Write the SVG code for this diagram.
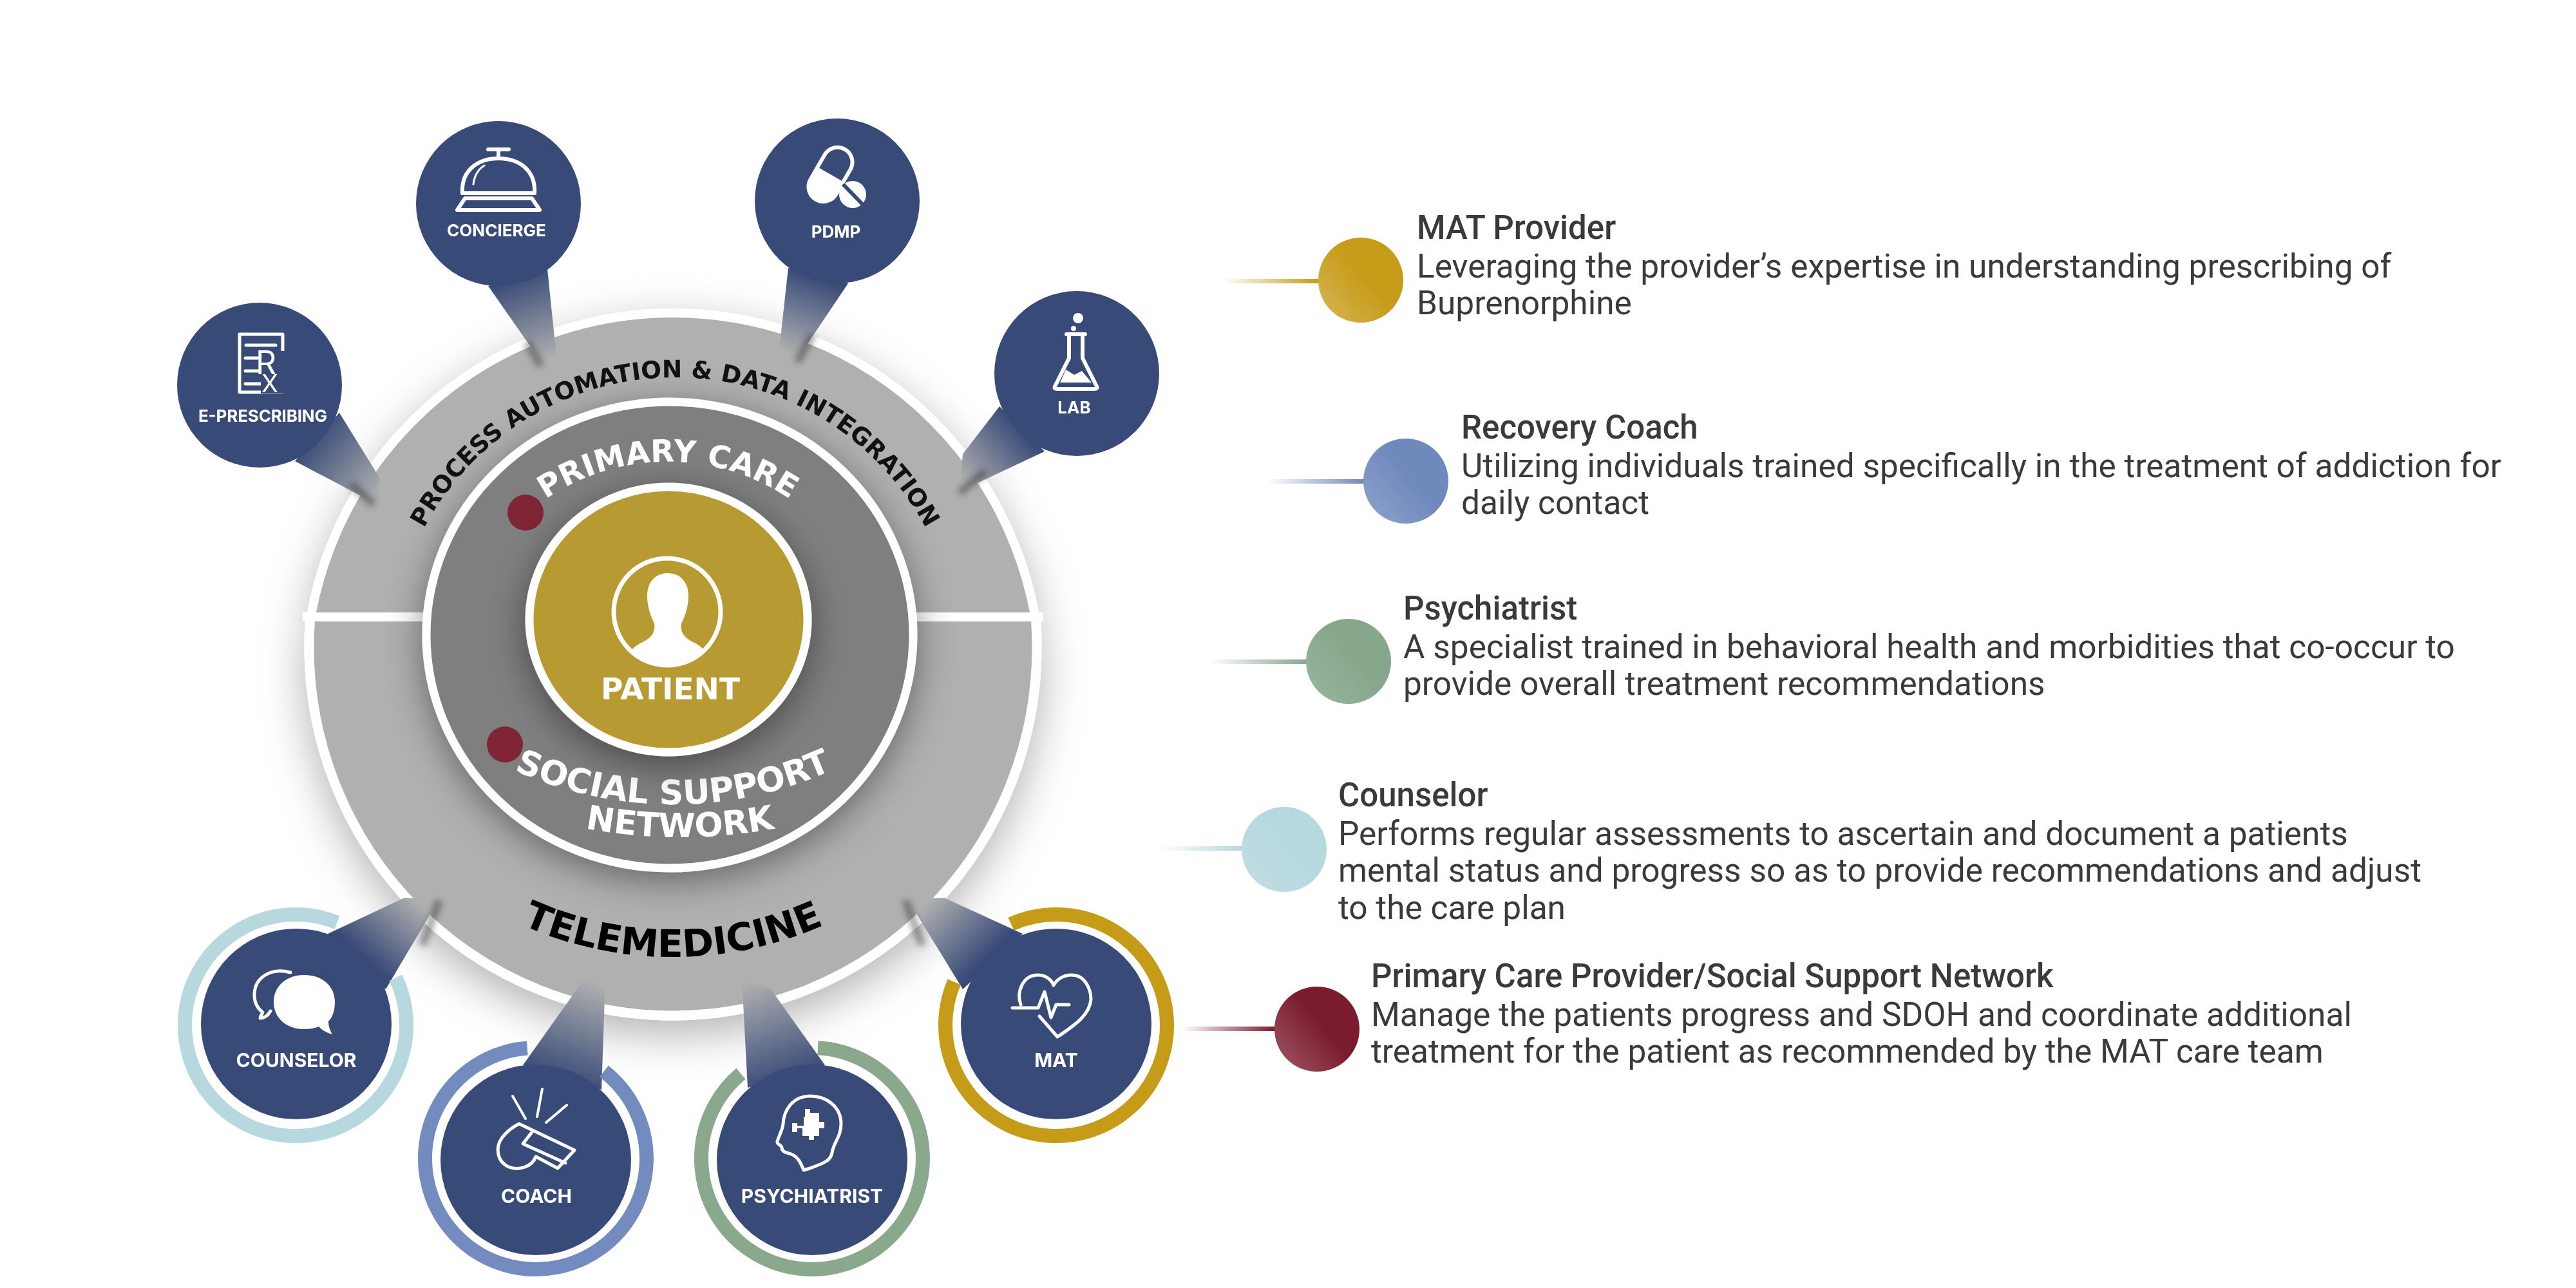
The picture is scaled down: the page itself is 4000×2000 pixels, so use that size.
<svg xmlns="http://www.w3.org/2000/svg" xmlns:xlink="http://www.w3.org/1999/xlink" width="4000" height="2000" viewBox="0 0 4000 2000">
<style>
text{font-family:"Inter","Liberation Sans",sans-serif}
.lbl{font-size:26px;font-weight:700;fill:#fff;text-anchor:middle}
.lbl2{font-size:30px;font-weight:700;fill:#fff;text-anchor:middle}
.arc{font-family:"DejaVu Sans","Liberation Sans",sans-serif;font-weight:700;text-anchor:middle}
.t{font-family:"Roboto","Liberation Sans",sans-serif;font-size:51px;font-weight:500;fill:#3a3a3a}
.b{font-family:"Roboto","Liberation Sans",sans-serif;font-size:51.4px;fill:#3a3a3a}
.node{fill:#384A78}
.ring{fill:none;stroke-width:22}
.ws{fill:none;stroke:#fff;stroke-width:6;stroke-linecap:round;stroke-linejoin:round}
.wf{fill:#fff}
.edge{fill:none;stroke:#222;stroke-width:12;opacity:.4;filter:url(#soft)}
.leg{stroke-width:7}
</style>
<defs>
<filter id="shadow" x="-20%" y="-20%" width="140%" height="140%"><feDropShadow dx="0" dy="14" stdDeviation="28" flood-color="#000" flood-opacity=".42"/></filter>
<filter id="hubshadow" x="-20%" y="-20%" width="140%" height="140%"><feDropShadow dx="0" dy="22" stdDeviation="34" flood-color="#000" flood-opacity=".3"/></filter>
<filter id="soft" x="-100%" y="-100%" width="300%" height="300%"><feGaussianBlur stdDeviation="5"/></filter>
<clipPath id="hubTop"><rect x="300" y="300" width="1500" height="652"/></clipPath>
<clipPath id="hubBot"><rect x="300" y="964" width="1500" height="800"/></clipPath>
<clipPath id="person"><circle cx="1036" cy="950" r="80"/></clipPath>
<linearGradient id="w"><stop offset="0" stop-color="#384A78"/><stop offset="1" stop-color="#B0B0B0"/></linearGradient>
<linearGradient id="w1" href="#w" gradientUnits="userSpaceOnUse" x1="480" y1="680" x2="590" y2="770"/>
<linearGradient id="w2" href="#w" gradientUnits="userSpaceOnUse" x1="800" y1="430" x2="850" y2="560"/>
<linearGradient id="w3" href="#w" gradientUnits="userSpaceOnUse" x1="1270" y1="430" x2="1225" y2="550"/>
<linearGradient id="w4" href="#w" gradientUnits="userSpaceOnUse" x1="1590" y1="670" x2="1495" y2="750"/>
<linearGradient id="w5" href="#w" gradientUnits="userSpaceOnUse" x1="570" y1="1490" x2="650" y2="1400"/>
<linearGradient id="w6" href="#w" gradientUnits="userSpaceOnUse" x1="870" y1="1680" x2="925" y2="1525"/>
<linearGradient id="w7" href="#w" gradientUnits="userSpaceOnUse" x1="1220" y1="1680" x2="1165" y2="1525"/>
<linearGradient id="w8" href="#w" gradientUnits="userSpaceOnUse" x1="1530" y1="1490" x2="1440" y2="1400"/>
<linearGradient id="d1" x1="0" y1="1" x2=".6" y2=".5"><stop offset="0" stop-color="#D8B659"/><stop offset="1" stop-color="#C59B17"/></linearGradient>
<linearGradient id="d2" x1="0" y1="1" x2=".6" y2=".5"><stop offset="0" stop-color="#8FA3CC"/><stop offset="1" stop-color="#7089BD"/></linearGradient>
<linearGradient id="d3" x1="0" y1="1" x2=".6" y2=".5"><stop offset="0" stop-color="#9AB6A0"/><stop offset="1" stop-color="#87A78C"/></linearGradient>
<linearGradient id="d4" x1="0" y1="1" x2=".6" y2=".5"><stop offset="0" stop-color="#C2DEE3"/><stop offset="1" stop-color="#B6D8DF"/></linearGradient>
<linearGradient id="d5" x1="0" y1="1" x2=".6" y2=".5"><stop offset="0" stop-color="#A05A68"/><stop offset="1" stop-color="#7A1C2E"/></linearGradient>
<linearGradient id="l1"><stop offset="0" stop-color="#C59B17" stop-opacity="0"/><stop offset="1" stop-color="#C59B17"/></linearGradient>
<linearGradient id="l2"><stop offset="0" stop-color="#7089BD" stop-opacity="0"/><stop offset="1" stop-color="#7089BD"/></linearGradient>
<linearGradient id="l3"><stop offset="0" stop-color="#87A78C" stop-opacity="0"/><stop offset="1" stop-color="#87A78C"/></linearGradient>
<linearGradient id="l4"><stop offset="0" stop-color="#B6D8DF" stop-opacity="0"/><stop offset="1" stop-color="#B6D8DF"/></linearGradient>
<linearGradient id="l5"><stop offset="0" stop-color="#7A1C2E" stop-opacity="0"/><stop offset="1" stop-color="#7A1C2E"/></linearGradient>
<path id="pProcess" d="M607,1027 A441,441 0 0 1 1489,1027"/>
<path id="pPrimary" d="M698,1056 A339,339 0 0 1 1376,1056"/>
<path id="pSocial" d="M445,649 A600,600 0 0 0 1645,649"/>
<path id="pNetwork" d="M256,500 A800,800 0 0 0 1856,500"/>
<path id="pTele" d="M470,911 A575,575 0 0 0 1620,911"/>
</defs>

<g id="hub" filter="url(#hubshadow)">
<circle cx="1045" cy="1057" r="571" fill="#B0B0B0" stroke="#fff" stroke-width="14" clip-path="url(#hubTop)"/>
<ellipse cx="1045" cy="1005" rx="565" ry="572" fill="#B0B0B0" stroke="#fff" stroke-width="15" clip-path="url(#hubBot)"/>
</g>
<rect id="split" x="470" y="951" width="1150" height="14" fill="#fff"/>
<text id="t-process" class="arc" font-size="37.5" fill="#111"><textPath href="#pProcess" startOffset="50%">PROCESS AUTOMATION &amp; DATA INTEGRATION</textPath></text>

<g id="care-ring">
<ellipse cx="1040" cy="986" rx="378" ry="362" fill="#7F7F7F" stroke="#fff" stroke-width="13" filter="url(#shadow)"/>
<text class="arc" font-size="48" fill="#fff"><textPath href="#pPrimary" startOffset="50%">PRIMARY CARE</textPath></text>
<text class="arc" font-size="52.5" fill="#fff"><textPath href="#pSocial" startOffset="50%">SOCIAL SUPPORT</textPath></text>
<text class="arc" font-size="52" fill="#fff"><textPath href="#pNetwork" startOffset="50%">NETWORK</textPath></text>
<ellipse cx="816" cy="796" rx="28" ry="28" fill="#7F2535"/>
<ellipse cx="784" cy="1156" rx="28" ry="28" fill="#7F2535"/>
</g>

<g id="patient">
<ellipse cx="1038" cy="962" rx="216" ry="206" fill="#B89A30" stroke="#fff" stroke-width="13" filter="url(#shadow)"/>
<g clip-path="url(#person)"><path class="wf" d="M1037,890 C1058,890 1070,906 1069,928 C1068,946 1063,958 1058,968 C1056,982 1062,990 1078,998 C1092,1005 1102,1016 1108,1040 H966 C972,1016 982,1005 996,998 C1012,990 1018,982 1016,968 C1011,958 1006,946 1005,928 C1004,906 1016,890 1037,890 Z"/></g>
<circle cx="1036" cy="950" r="83" fill="none" stroke="#fff" stroke-width="7"/>
<text x="1041" y="1086" font-size="47" font-weight="700" fill="#fff" text-anchor="middle" style="font-family:'DejaVu Sans',sans-serif">PATIENT</text>
</g>
<text id="t-tele" class="arc" font-size="59" fill="#000"><textPath href="#pTele" startOffset="50%">TELEMEDICINE</textPath></text>

<g id="connectors">
<polygon fill="url(#w1)" points="527,641 590,743 585,783 458,716"/>
<polygon fill="url(#w2)" points="758,444 850,418 864,553 845,567 818,530"/>
<polygon fill="url(#w3)" points="1224,416 1317,440 1235,562 1211,533"/>
<polygon fill="url(#w4)" points="1552,631 1622,701 1490,763 1495,705"/>
<polygon fill="url(#w5)" points="509,1450 628,1394 682,1396 599,1536"/>
<polygon fill="url(#w6)" points="812,1654 905,1523 940,1520 934,1692"/>
<polygon fill="url(#w7)" points="1161,1689 1152,1520 1197,1536 1281,1654"/>
<polygon fill="url(#w8)" points="1588,1450 1466,1394 1409,1396 1495,1536"/>
<path class="edge" d="M682,1398 L656,1468"/>
<path class="edge" d="M946,1522 V1562"/>
<path class="edge" d="M1148,1522 V1562"/>
<path class="edge" d="M1406,1398 L1432,1468"/>
<path class="edge" d="M580,783 L545,752"/>
<path class="edge" d="M818,532 L840,568"/>
<path class="edge" d="M1238,562 L1262,520"/>
<path class="edge" d="M1490,765 L1530,732"/>
<rect class="leg" x="1898" y="433" width="150" height="7" fill="url(#l1)"/>
<rect class="leg" x="1968" y="744" width="150" height="7" fill="url(#l2)"/>
<rect class="leg" x="1877" y="1024" width="152" height="7" fill="url(#l3)"/>
<rect class="leg" x="1800" y="1314" width="129" height="7" fill="url(#l4)"/>
<rect class="leg" x="1835" y="1594" width="145" height="7" fill="url(#l5)"/>
</g>

<g id="n-eprescribing">
<circle class="node" cx="403" cy="598" r="128"/>
<rect class="ws" x="372" y="519" width="67" height="90" style="stroke-width:5"/>
<path class="ws" style="stroke-width:5" d="M382,536 H428 M381,556 H400 M381,576 H400 M381,596 H415"/>
<rect x="405" y="545" width="38" height="66" fill="#384A78"/>
<text x="397" y="581" font-size="50" font-weight="400" fill="#fff">R</text>
<text x="406" y="609" font-size="38" font-weight="400" fill="#fff">X</text>
<text class="lbl" x="408" y="655" textLength="200">E-PRESCRIBING</text>
</g>
<g id="n-concierge">
<circle class="node" cx="774" cy="316" r="128"/>
<path class="ws" d="M758,232 H790 M774,232 V244 M718,300 C716,268 738,246 774,246 C810,246 832,268 830,300 Z M722,308 H826 L838,326 H710 Z"/>
<path class="ws" style="stroke-width:3" d="M735,286 C737,270 744,262 752,257"/>
<text class="lbl" x="771" y="367">CONCIERGE</text>
</g>
<g id="n-pdmp">
<circle class="node" cx="1300" cy="312" r="128"/>
<g transform="rotate(30 1290 270)">
<rect x="1267" y="226" width="46" height="90" rx="23" fill="none" stroke="#fff" stroke-width="6"/>
<path class="wf" d="M1267,271 H1313 V293 A23,23 0 0 1 1267,293 Z"/>
</g>
<circle class="wf" cx="1324" cy="302" r="21"/>
<path d="M1309,286 L1340,318" stroke="#384A78" stroke-width="6"/>
<text class="lbl" x="1298" y="369">PDMP</text>
</g>
<g id="n-lab">
<circle class="node" cx="1672" cy="580" r="128"/>
<circle class="wf" cx="1674" cy="494" r="8"/><circle class="wf" cx="1667" cy="510" r="4"/>
<path class="ws" d="M1656,519 H1685 M1660,519 V556 L1638,600 Q1636,604 1642,604 H1699 Q1705,604 1703,600 L1681,556 V519"/>
<path class="wf" d="M1646,594 L1655,574 L1668,582 L1680,576 L1695,594 Z"/>
<text class="lbl" x="1668" y="642">LAB</text>
</g>
<g id="n-counselor">
<path class="ring" stroke="#B7D8DF" d="M614.4,1518.2 A172,172 0 1 1 523.4,1432.5"/>
<circle class="node" cx="460" cy="1590" r="148"/>
<path class="wf" d="M472,1514 C502,1514 520,1532 520,1556 C520,1570 516,1580 510,1586 C510,1594 513,1601 516,1606 C508,1604 500,1600 495,1594 C488,1597 480,1598 472,1598 C444,1598 425,1580 425,1556 C425,1532 444,1514 472,1514 Z"/>
<path class="ws" style="stroke-width:5" d="M451,1510 C420,1502 395,1518 395,1545 C395,1558 400,1566 408,1572 C406,1576 404,1578 404,1581 C410,1581 416,1577 420,1570"/>
<text class="lbl2" x="460" y="1657">COUNSELOR</text>
</g>
<g id="n-coach">
<path class="ring" stroke="#748BBF" d="M937.9,1663.5 A172,172 0 1 1 818.8,1627.5"/>
<circle class="node" cx="832" cy="1801" r="148"/>
<path class="ws" style="stroke-width:4" d="M796,1702 L816,1737 M842,1691 L834,1734 M880,1716 L848,1743"/>
<path class="ws" style="stroke-width:5" d="M806,1745 L892,1786 L866,1814 L832,1796 C826,1812 806,1818 790,1812 C772,1804 768,1782 780,1766 C788,1756 796,1750 806,1745 Z M826,1758 L812,1776 L878,1806"/>
<text class="lbl2" x="833" y="1868">COACH</text>
</g>
<g id="n-psychiatrist">
<path class="ring" stroke="#8AA98C" d="M1270,1627.2 A172,172 0 1 1 1150.4,1667.2"/>
<circle class="node" cx="1261" cy="1801" r="148"/>
<path class="ws" style="stroke-width:5" d="M1248,1817 L1258,1814 C1280,1806 1290,1802 1292,1790 C1294,1774 1306,1766 1306,1745 C1306,1720 1285,1702 1258,1702 C1230,1702 1217,1725 1216,1745 C1216,1752 1208,1768 1207,1772 C1206,1778 1214,1778 1214,1782 C1214,1790 1224,1790 1228,1792 C1240,1796 1244,1808 1248,1817 Z"/>
<path class="wf" d="M1250,1722 h8 v6 h14 v14 h8 v10 h-8 v12 h-8 v6 h-8 v-6 h-10 v-12 h-8 v6 h-8 v-14 h8 v4 h10 v-14 h2 z"/>
<text class="lbl2" x="1261" y="1868">PSYCHIATRIST</text>
</g>
<g id="n-mat">
<path class="ring" stroke="#C59B17" d="M1570,1434.9 A172,172 0 1 1 1481.7,1524.8"/>
<circle class="node" cx="1640" cy="1590" r="148"/>
<path class="ws" style="stroke-width:5" d="M1585,1560 C1578,1540 1588,1514 1612,1514 C1626,1514 1634,1524 1636,1530 C1640,1522 1650,1514 1664,1514 C1686,1514 1694,1538 1694,1552 C1692,1575 1672,1590 1642,1610 L1614,1578"/>
<path class="ws" style="stroke-width:5" d="M1572,1565 H1612 L1622,1540 L1632,1580 L1640,1560 H1660"/>
<text class="lbl2" x="1640" y="1657">MAT</text>
</g>

<g id="i-mat"><circle cx="2113" cy="435" r="66" fill="url(#d1)"/>
<text class="t" x="2200" y="371">MAT Provider</text>
<text class="b" x="2200" y="431">Leveraging the provider’s expertise in understanding prescribing of</text>
<text class="b" x="2200" y="488">Buprenorphine</text></g>
<g id="i-coach"><circle cx="2183" cy="747" r="66" fill="url(#d2)"/>
<text class="t" x="2269" y="681">Recovery Coach</text>
<text class="b" x="2269" y="741">Utilizing individuals trained specifically in the treatment of addiction for</text>
<text class="b" x="2269" y="798">daily contact</text></g>
<g id="i-psych"><circle cx="2094" cy="1027" r="66" fill="url(#d3)"/>
<text class="t" x="2179" y="962">Psychiatrist</text>
<text class="b" x="2179" y="1022">A specialist trained in behavioral health and morbidities that co-occur to</text>
<text class="b" x="2179" y="1079">provide overall treatment recommendations</text></g>
<g id="i-counselor"><circle cx="1994" cy="1319" r="66" fill="url(#d4)"/>
<text class="t" x="2078" y="1252">Counselor</text>
<text class="b" x="2078" y="1312">Performs regular assessments to ascertain and document a patients</text>
<text class="b" x="2078" y="1369">mental status and progress so as to provide recommendations and adjust</text>
<text class="b" x="2078" y="1427">to the care plan</text></g>
<g id="i-primary"><circle cx="2045" cy="1598" r="66" fill="url(#d5)"/>
<text class="t" x="2129" y="1533">Primary Care Provider/Social Support Network</text>
<text class="b" x="2129" y="1593">Manage the patients progress and SDOH and coordinate additional</text>
<text class="b" x="2129" y="1650">treatment for the patient as recommended by the MAT care team</text></g>
</svg>
